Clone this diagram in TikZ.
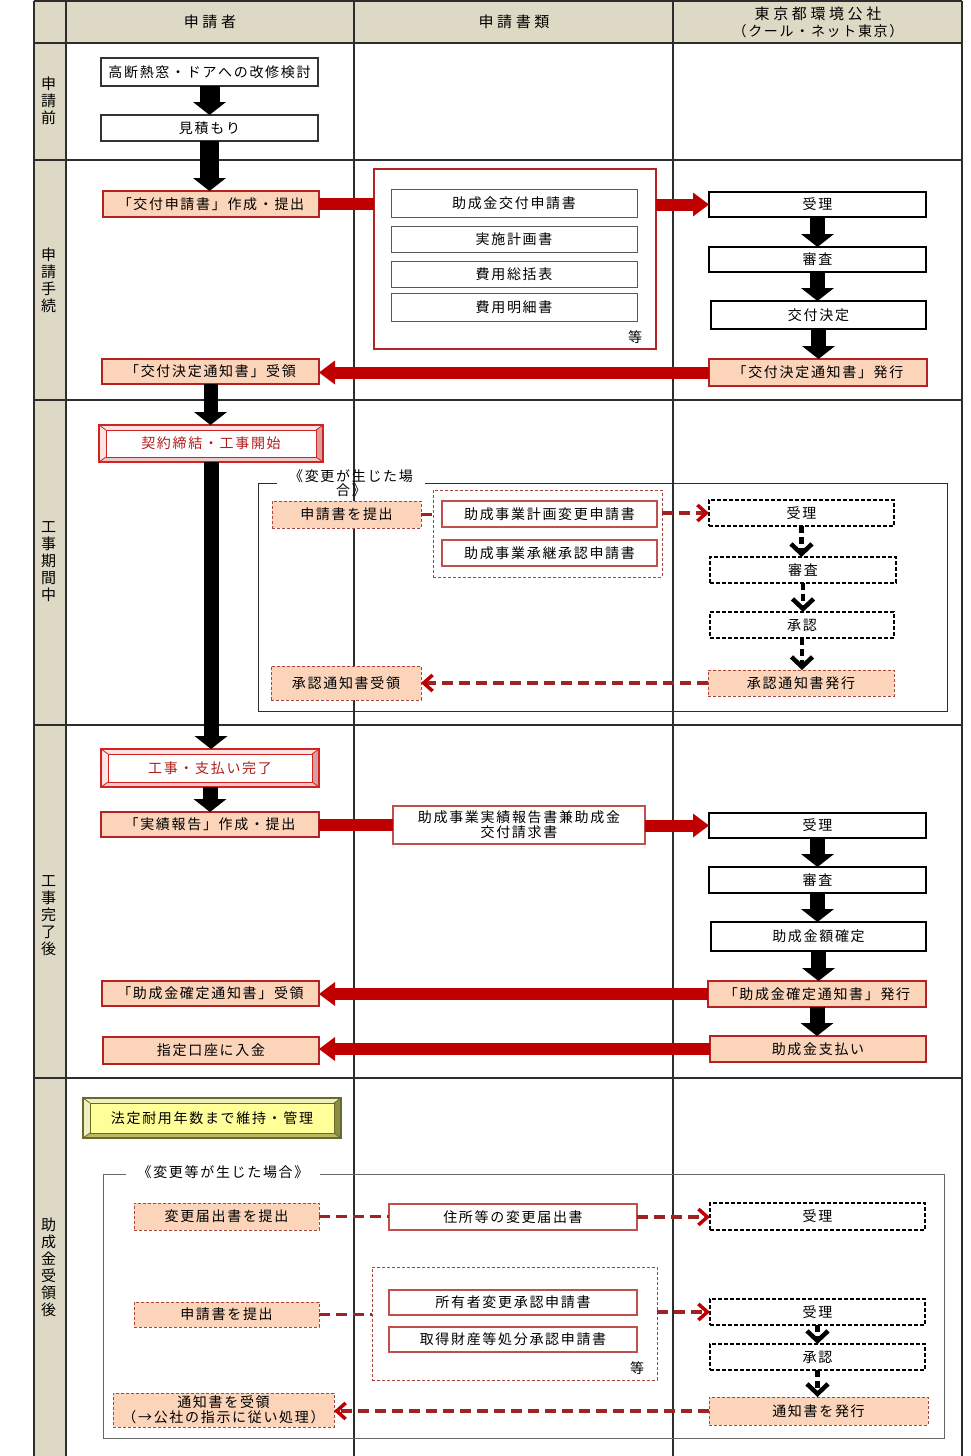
\documentclass[tikz,border=0pt]{standalone}
\usepackage{fontspec}
\setmainfont{Noto Sans CJK JP}
\newfontfamily\jp[LetterSpace=12]{Noto Sans CJK JP}
\newfontfamily\jphd[LetterSpace=24]{Noto Sans CJK JP}
\newfontfamily\jpv{Noto Sans CJK JP}
\usetikzlibrary{arrows.meta,calc}
\definecolor{hdr}{RGB}{221,217,196}
\definecolor{gridc}{RGB}{45,45,45}
\definecolor{salmon}{RGB}{251,212,186}
\definecolor{bred}{RGB}{180,35,35}
\definecolor{ared}{RGB}{192,0,0}
\definecolor{dred}{RGB}{160,35,35}
\definecolor{lred}{RGB}{192,80,77}
\definecolor{dashbr}{RGB}{170,70,60}
\definecolor{textred}{RGB}{175,30,30}
\definecolor{bevred}{RGB}{210,35,35}
\definecolor{pinkl}{RGB}{251,228,228}
\definecolor{pinkd}{RGB}{215,160,160}
\definecolor{pinkm}{RGB}{240,200,200}
\definecolor{yface}{RGB}{255,255,153}
\definecolor{yl}{RGB}{240,240,190}
\definecolor{yd}{RGB}{140,140,70}
\definecolor{ym}{RGB}{185,185,100}
\definecolor{yedge}{RGB}{105,105,45}
\newcommand\bevelbox[5]{%
  \fill[#3] (#1.north west) -- (#1.north east) -- ($(#1.north east)+(-7pt,-5pt)$) -- ($(#1.north west)+(7pt,-5pt)$) -- cycle;
  \fill[#3] (#1.north west) -- (#1.south west) -- ($(#1.south west)+(7pt,5pt)$) -- ($(#1.north west)+(7pt,-5pt)$) -- cycle;
  \fill[#4] (#1.north east) -- (#1.south east) -- ($(#1.south east)+(-7pt,5pt)$) -- ($(#1.north east)+(-7pt,-5pt)$) -- cycle;
  \fill[#5] (#1.south west) -- (#1.south east) -- ($(#1.south east)+(-7pt,5pt)$) -- ($(#1.south west)+(7pt,5pt)$) -- cycle;
  \draw[#2, line width=1pt] ($(#1.north west)+(7pt,-5pt)$) rectangle ($(#1.south east)+(-7pt,5pt)$);
  \draw[#2, line width=0.8pt] (#1.north west) -- ++(7pt,-5pt) (#1.north east) -- ++(-7pt,-5pt) (#1.south west) -- ++(7pt,5pt) (#1.south east) -- ++(-7pt,5pt);
  \draw[#2, line width=2.2pt] (#1.north west) rectangle (#1.south east);
}
\tikzset{
  every node/.style={inner sep=0pt, outer sep=0pt, align=center, font=\jp\fontsize{14}{15}\selectfont},
  sz/.style 2 args={minimum width=#1pt, minimum height=#2pt},
  plain/.style={draw=black!80, line width=1.2pt, fill=white},
  cool/.style={draw=black, line width=1.8pt, fill=white},
  sal/.style={draw=bred, line width=1.5pt, fill=salmon},
  sald/.style={draw=dashbr, line width=1pt, dash pattern=on 3pt off 2pt, fill=salmon},
  wd/.style={draw=black, line width=1.1pt, dash pattern=on 4pt off 2pt, fill=white},
  doc/.style={draw=gray!70!black, line width=1pt, fill=white},
  rdoc/.style={draw=lred, line width=1.2pt, fill=white},
  grp/.style={draw=bred, line width=1.6pt, fill=white},
  dgrp/.style={draw=dashbr, line width=0.9pt, dash pattern=on 3pt off 2pt},
  bev/.style={fill=white, text=textred},
  bevy/.style={fill=yface},
  hdrtext/.style={font=\jphd\fontsize{15}{17}\selectfont},
  phase/.style={font=\jpv\fontsize{15}{17}\selectfont},
  gline/.style={draw=gridc, line width=1pt},
  blk/.style={draw=black, line width=#1pt, -{Triangle[width=33pt,length=13pt,line width=0pt]}},
  blk/.default=16,
  rline/.style={draw=ared, line width=12pt},
  rarr/.style={draw=ared, line width=12pt, -{Triangle[width=24pt,length=16pt,line width=0pt]}},
  rdash/.style={draw=dred, line width=3.8pt, dash pattern=on 11pt off 6pt},
  rdarr/.style={rdash, -{Straight Barb[length=9pt,width=16pt,line width=3.5pt,color=ared]}},
  kdarr/.style={draw=black, line width=4.5pt, dash pattern=on 7pt off 4pt, -{Straight Barb[length=10pt,width=21pt,line width=4.5pt]}},
}
\begin{document}
\begin{tikzpicture}[x=1pt,y=-1pt]
\useasboundingbox (0,0) rectangle (971,1456);
% table
\fill[hdr] (34,1) rectangle (962,43);
\fill[hdr] (34,43) rectangle (66,1456);
\draw[gridc, line width=1.4pt] (34,1) -- (962,1) (34,43) -- (962,43) (34,160) -- (962,160) (34,400) -- (962,400) (34,725) -- (962,725) (34,1078) -- (962,1078);
\draw[gridc, line width=1.4pt] (34,1) -- (34,1456) (66,1) -- (66,1456) (354,1) -- (354,1456) (673,1) -- (673,1456) (962,1) -- (962,1456);
% headers
\node[hdrtext] (h1) at (210,22) {申請者};
\node[hdrtext] (h2) at (514,22) {申請書類};
\node[hdrtext] (h3) at (818,22.5) {東京都環境公社\\{\jp\fontsize{14}{17}\selectfont （クール・ネット東京）}};
% phase labels
\node[phase] (p1) at (48.5,101) {申\\請\\前};
\node[phase] (p2) at (48.5,280) {申\\請\\手\\続};
\node[phase] (p3) at (48.5,562) {工\\事\\期\\間\\中};
\node[phase] (p4) at (48.5,916) {工\\事\\完\\了\\後};
\node[phase] (p5) at (48.5,1267) {助\\成\\金\\受\\領\\後};
% row 1
\node[plain, sz={217}{28}] (A1) at (209.5,72) {高断熱窓・ドアへの改修検討};
\node[plain, sz={217}{26}] (A2) at (209.5,128) {見積もり};
% row 2
\node[sal, sz={216}{26}] (B1) at (211,204) {「交付申請書」作成・提出};
\node[grp, sz={282}{180}] (grpA) at (515,259) {};
\node[doc, sz={246}{28}] (Da) at (514,203.5) {助成金交付申請書};
\node[doc, sz={246}{26}] (Db) at (514,239) {実施計画書};
\node[doc, sz={246}{26}] (Dc) at (514,274) {費用総括表};
\node[doc, sz={246}{28}] (Dd) at (514,307) {費用明細書};
\node (etc1) at (635,337) {等};
\node[cool, sz={217}{25}] (C1) at (817.5,204.5) {受理};
\node[cool, sz={217}{25}] (C2) at (817.5,259.5) {審査};
\node[cool, sz={215}{28}] (C3) at (818.5,315) {交付決定};
\node[sal, sz={218}{27}] (C4) at (818,372.5) {「交付決定通知書」発行};
\node[sal, sz={217}{25}] (B2) at (210.5,371.5) {「交付決定通知書」受領};
% row 3
\node[bev, sz={224}{37}] (D1) at (211,443.5) {契約締結・工事開始};
\bevelbox{D1}{bevred}{pinkl}{pinkd}{pinkm}
\node[sz={689}{228}] (grpB) at (602.5,597) {};
\node[inner xsep=12pt, font=\jp\fontsize{14}{14}\selectfont] (tB) at (351,483) {《変更が生じた場\\合》};
\draw[gline] (tB.east |- grpB.north) -- (grpB.north east) -- (grpB.south east) -- (grpB.south west) -- (grpB.north west) -- (tB.west |- grpB.north);
\node[sald, sz={149}{27}] (F1) at (346.5,514.5) {申請書を提出};
\node[dgrp, sz={229}{87}] (docgB) at (547.5,533.5) {};
\node[rdoc, sz={215}{26}] (G1) at (549.5,514) {助成事業計画変更申請書};
\node[rdoc, sz={215}{26}] (G2) at (549.5,553) {助成事業承継承認申請書};
\node[wd, sz={185}{26}] (H1) at (801.5,513) {受理};
\node[wd, sz={186}{26}] (H2) at (803,570) {審査};
\node[wd, sz={184}{26}] (H3) at (802,625) {承認};
\node[sald, sz={186}{26}] (H4) at (801,683) {承認通知書発行};
\node[sald, sz={150}{34}] (F2) at (346,683) {承認通知書受領};
% row 4
\node[bev, sz={218}{38}] (E1) at (210,768) {工事・支払い完了};
\bevelbox{E1}{bevred}{pinkl}{pinkd}{pinkm}
\node[sal, sz={218}{25}] (I1) at (210,824.5) {「実績報告」作成・提出};
\node[rdoc, line width=1.5pt, sz={252}{38}] (J1) at (519,825) {助成事業実績報告書兼助成金\\交付請求書};
\node[cool, sz={217}{25}] (K1) at (817.5,825.5) {受理};
\node[cool, sz={217}{26}] (K2) at (817.5,880) {審査};
\node[cool, sz={215}{29}] (K3) at (818.5,936.5) {助成金額確定};
\node[sal, sz={218}{26}] (K4) at (817,994) {「助成金確定通知書」発行};
\node[sal, sz={216}{26}] (K5) at (818,1049) {助成金支払い};
\node[sal, sz={217}{25}] (L1) at (210.5,993.5) {「助成金確定通知書」受領};
\node[sal, sz={216}{27}] (L2) at (211,1050.5) {指定口座に入金};
% row 5
\node[bevy, sz={258}{40}] (M1) at (212,1118) {法定耐用年数まで維持・管理};
\bevelbox{M1}{yedge}{yl}{yd}{ym}
\node[sz={841}{264}] (grpC) at (523.5,1306) {};
\node[inner xsep=12pt] (tC) at (223,1172) {《変更等が生じた場合》};
\draw[gline, draw=gray!80!black] (tC.east |- grpC.north) -- (grpC.north east) -- (grpC.south east) -- (grpC.south west) -- (grpC.north west) -- (tC.west |- grpC.north);
\node[sald, sz={185}{27}] (N1) at (226.5,1216.5) {変更届出書を提出};
\node[rdoc, sz={248}{26}] (O1) at (513,1217) {住所等の変更届出書};
\node[wd, sz={215}{27}] (P1) at (817.5,1216.5) {受理};
\node[sald, sz={185}{25}] (N2) at (226.5,1314.5) {申請書を提出};
\node[dgrp, sz={285}{113}] (docgC) at (514.5,1323.5) {};
\node[rdoc, sz={248}{25}] (O2) at (513,1302.5) {所有者変更承認申請書};
\node[rdoc, sz={248}{25}] (O3) at (513,1339.5) {取得財産等処分承認申請書};
\node (etc2) at (637,1368) {等};
\node[wd, sz={215}{26}] (Q1) at (817.5,1312) {受理};
\node[wd, sz={215}{26}] (Q2) at (817.5,1357) {承認};
\node[sald, sz={219}{28}] (Q3) at (818.5,1411) {通知書を発行};
\node[sald, sz={221}{34}] (R1) at (223.5,1410) {通知書を受領\\（→公社の指示に従い処理）};
% black block arrows
\draw[blk=20] (A1.south) -- (A2.north);
\draw[blk=19] (A2.south) -- (A2.south |- B1.north);
\draw[blk=15] (C1.south) -- (C1.south |- C2.north);
\draw[blk=15] (C2.south) -- (C2.south |- C3.north);
\draw[blk=15] (C3.south) -- (C3.south |- C4.north);
\draw[blk=14] (B2.south) -- (B2.south |- D1.north);
\draw[blk=15] (D1.south) -- (D1.south |- E1.north);
\draw[blk=15] (E1.south) -- (E1.south |- I1.north);
\draw[blk=15] (K1.south) -- (K1.south |- K2.north);
\draw[blk=15] (K2.south) -- (K2.south |- K3.north);
\draw[blk=15] (K3.south) -- (K3.south |- K4.north);
\draw[blk=15] (K4.south) -- (K4.south |- K5.north);
% red arrows
\draw[rline] (B1.east) -- (B1.east -| grpA.west);
\draw[rarr] (grpA.east |- C1.west) -- (C1.west);
\draw[rarr] (C4.west) -- (C4.west -| B2.east);
\draw[rline] (I1.east) -- (I1.east -| J1.west);
\draw[rarr] (J1.east |- K1.west) -- (K1.west);
\draw[rarr] (K4.west) -- (K4.west -| L1.east);
\draw[rarr] (K5.west) -- (K5.west -| L2.east);
% dashed connectors
\draw[rdash] (F1.east) -- (F1.east -| docgB.west);
\draw[rdarr] (docgB.east |- H1.west) -- (H1.west);
\draw[kdarr] (H1.south) -- (H1.south |- H2.north);
\draw[kdarr] (H2.south) -- (H2.south |- H3.north);
\draw[kdarr] (H3.south) -- (H3.south |- H4.north);
\draw[rdarr] (H4.west) -- (H4.west -| F2.east);
\draw[rdash] (N1.east) -- (N1.east -| O1.west);
\draw[rdarr] (O1.east) -- (O1.east -| P1.west);
\draw[rdash] (N2.east) -- (N2.east -| docgC.west);
\draw[rdarr] (docgC.east |- Q1.west) -- (Q1.west);
\draw[kdarr] (Q1.south) -- (Q1.south |- Q2.north);
\draw[kdarr] (Q2.south) -- (Q2.south |- Q3.north);
\draw[rdarr] (Q3.west) -- (Q3.west -| R1.east);
\end{tikzpicture}
\end{document}
